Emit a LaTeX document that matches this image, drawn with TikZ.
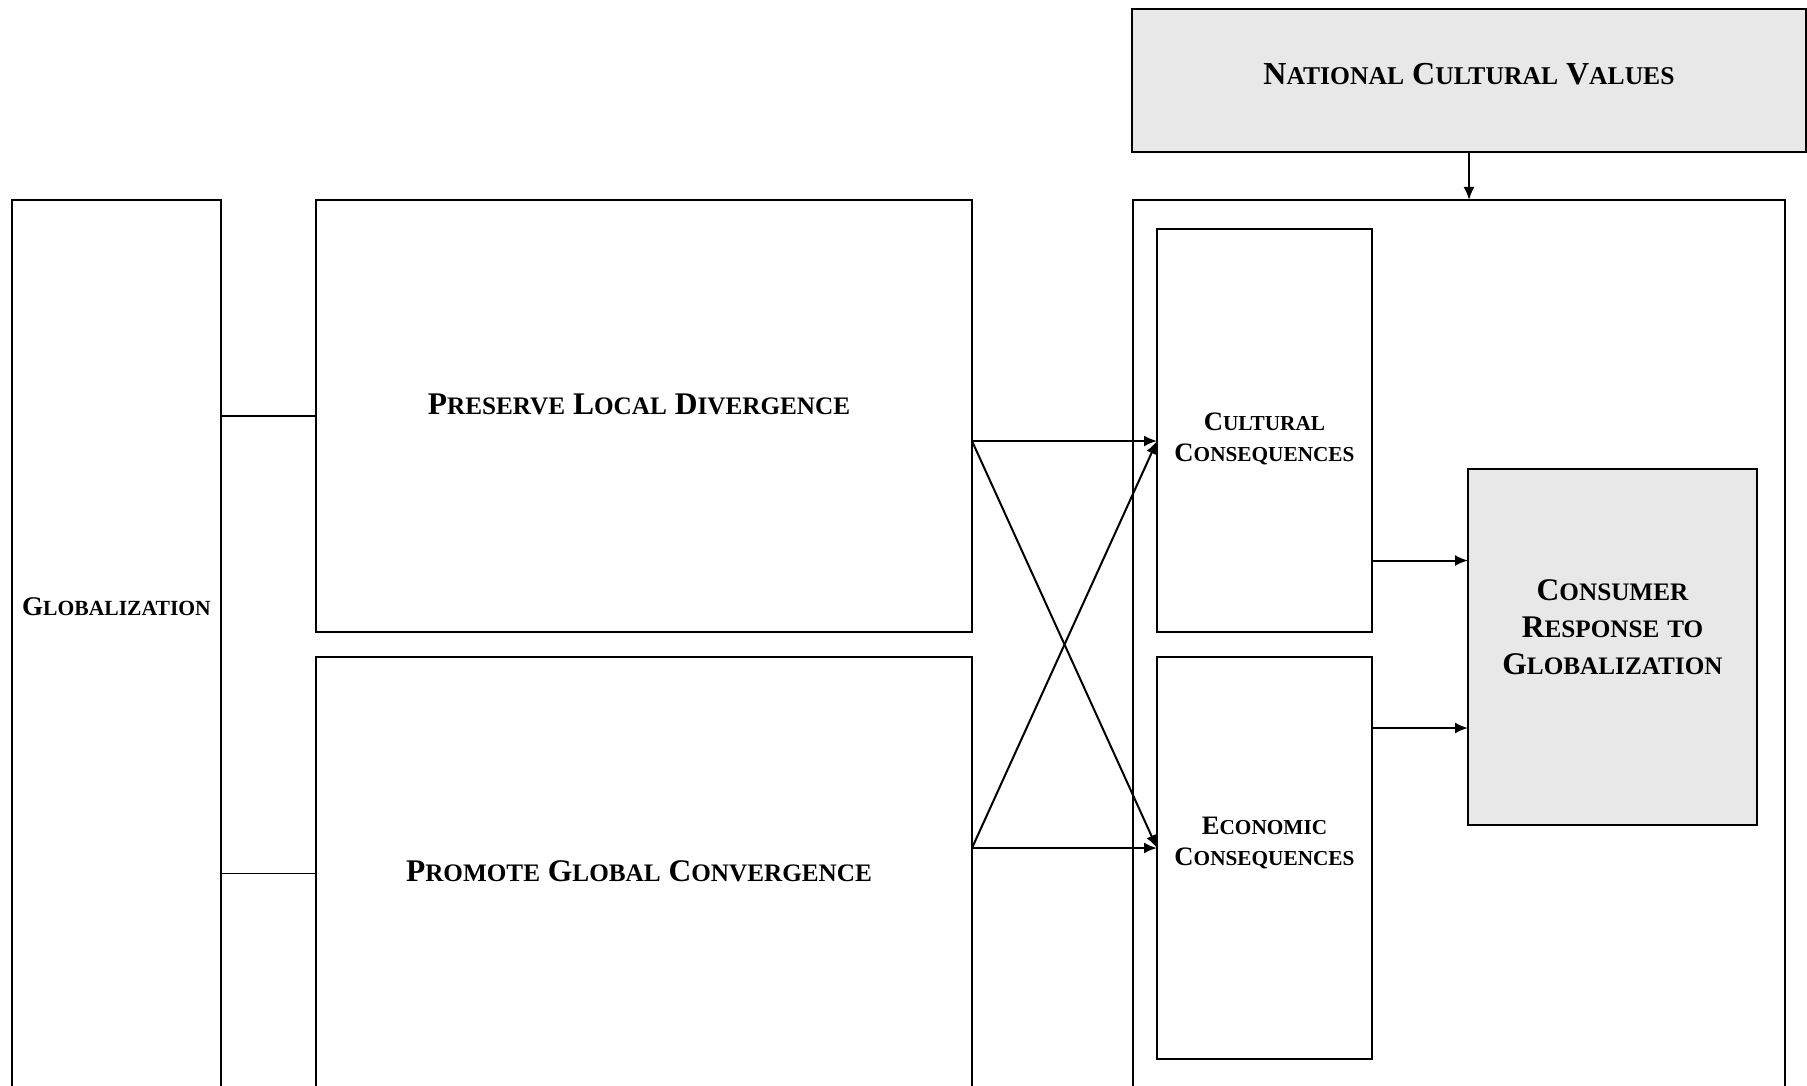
\documentclass[tikz,border=0pt]{standalone}
\usepackage{fontspec}
\setmainfont{Liberation Serif}
\usetikzlibrary{arrows.meta,positioning}

\makeatletter
\newcommand\smallcap[2]{#1{\fontsize{\fpeval{0.8*\f@size}}{\f@baselineskip}\selectfont #2}}
\makeatother

\begin{document}
\begin{tikzpicture}[x=1pt, y=-1pt]
    % Define styles
    \tikzstyle{block}=[rectangle,draw=black,line width=2pt,outer sep=0pt,inner sep=0pt,anchor=north west]
    \tikzstyle{shaded}=[block,fill=gray!18]
    \tikzstyle{title}=[align=center,inner sep=0pt]
    \tikzstyle{line}=[draw,line width=2pt,-{Latex[length=13pt,width=11pt]}]
    \tikzstyle{link}=[draw,line width=1.6pt]

    \useasboundingbox (0,0) rectangle (1807,1086);

    % Left column
    \node [block, minimum width=209pt, minimum height=900pt] (glob) at (12,200) {};
    \node [block, minimum width=656pt, minimum height=432pt, below right=0pt and 95pt of glob.north east] (preserve) {};
    \node [block, minimum width=656pt, minimum height=432pt, below=25pt of preserve] (promote) {};

    % Right column
    \node [shaded, minimum width=674pt, minimum height=143pt] (ncv) at (1132,9) {};
    \node [block, minimum width=652pt, minimum height=900pt] (frame) at (1133,200) {};
    \node [block, minimum width=215pt, minimum height=403pt, below right=29pt and 24pt of frame.north west] (cultural) {};
    \node [block, minimum width=215pt, minimum height=402pt, below=25pt of cultural] (economic) {};
    \node [shaded, minimum width=289pt, minimum height=356pt] (crg) at (1468,469) {};

    % Titles
    \node [title, font=\bfseries\fontsize{27}{32}\selectfont] (globtitle) at ([yshift=-407pt]glob.north) {\smallcap{G}{LOBALIZATION}};
    \node [title, font=\bfseries\fontsize{31.5}{36}\selectfont] (preservetitle) at ([xshift=-5pt,yshift=12pt]preserve.center) {\smallcap{P}{RESERVE} \smallcap{L}{OCAL} \smallcap{D}{IVERGENCE}};
    \node [title, font=\bfseries\fontsize{31.5}{36}\selectfont] (promotetitle) at ([xshift=-5pt,yshift=2pt]promote.center) {\smallcap{P}{ROMOTE} \smallcap{G}{LOBAL} \smallcap{C}{ONVERGENCE}};
    \node [title, font=\bfseries\fontsize{32}{36}\selectfont] (ncvtitle) at ([yshift=6pt]ncv.center) {\smallcap{N}{ATIONAL} \smallcap{C}{ULTURAL} \smallcap{V}{ALUES}};
    \node [title, font=\bfseries\fontsize{26.6}{31}\selectfont] (culturaltitle) at ([yshift=-8pt]cultural.center) {\smallcap{C}{ULTURAL}\\\smallcap{C}{ONSEQUENCES}};
    \node [title, font=\bfseries\fontsize{26.6}{31}\selectfont] (economictitle) at ([yshift=15pt]economic.center) {\smallcap{E}{CONOMIC}\\\smallcap{C}{ONSEQUENCES}};
    \node [title, font=\bfseries\fontsize{31.5}{37}\selectfont] (crgtitle) at ([yshift=20pt]crg.center) {\smallcap{C}{ONSUMER}\\\smallcap{R}{ESPONSE} \smallcap{}{TO}\\\smallcap{G}{LOBALIZATION}};

    % Connections
    \path [link] (glob.east |- preserve.west) -- (preserve.west);
    \path [link, line width=1pt] (glob.east |- promote.west) -- (promote.west);
    \path [line] ([yshift=-25pt]preserve.east) -- ([yshift=-25pt]preserve.east -| cultural.west);
    \path [line] ([yshift=-25pt]preserve.east) -- ([yshift=25pt]promote.east -| economic.west);
    \path [line] ([yshift=25pt]promote.east) -- ([yshift=-25pt]preserve.east -| cultural.west);
    \path [line] ([yshift=25pt]promote.east) -- ([yshift=25pt]promote.east -| economic.west);
    \path [line] ([yshift=-130pt]cultural.east) -- ([yshift=-130pt]cultural.east -| crg.west);
    \path [line] ([yshift=130pt]economic.east) -- ([yshift=130pt]economic.east -| crg.west);
    \path [line] (ncv.south) -- (ncv.south |- frame.north);
\end{tikzpicture}
\end{document}
